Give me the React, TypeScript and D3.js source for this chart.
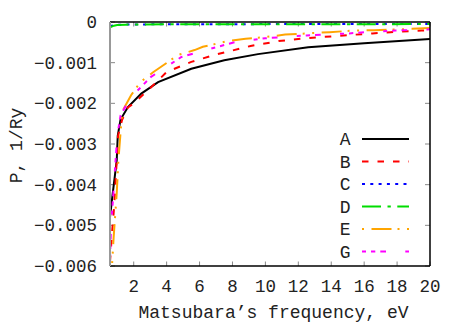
import React from "react";
import * as d3 from "d3";

const xTicks = [2, 4, 6, 8, 10, 12, 14, 16, 18, 20];
const yTicks = [0, -0.001, -0.002, -0.003, -0.004, -0.005, -0.006];

const seriesNames = ["A", "B", "C", "D", "E", "G"];

const xA = [0.56, 0.7, 0.85, 0.97, 1.03, 1.2, 1.65, 2.46, 3.48, 5.5, 7.5, 9.55, 12.6, 16, 20];
const yA = [-0.0048, -0.0043, -0.0038, -0.0034, -0.0028, -0.0024, -0.00209, -0.00176, -0.00148, -0.00115, -0.00094, -0.00079, -0.00062, -0.00052, -0.00042];

const xB = [0.56, 0.7, 0.8, 0.9, 0.97, 1.05, 1.3, 1.65, 2.0, 3.07, 4.0, 5.5, 7.0, 9.1, 10.8, 12.4, 14.5, 16.5, 17.6, 19.5, 20];
const yB = [-0.0059, -0.0051, -0.0046, -0.0039, -0.0034, -0.0028, -0.0024, -0.0021, -0.002, -0.0016, -0.00123, -0.00098, -0.0008, -0.00059, -0.00047, -0.0004, -0.00034, -0.00028, -0.00025, -0.00021, -0.0002];

const xC = [0.56, 1.0, 2.0, 5.0, 10, 15, 20];
const yC = [-0.0001, -0.00007, -0.00006, -0.000055, -0.000052, -0.00005, -0.000048];

const xD = [0.56, 0.8, 1.0, 1.5, 2.5, 5, 10, 15, 20];
const yD = [-0.00013, -0.00009, -0.000075, -0.000065, -0.00006, -0.000057, -0.000055, -0.000053, -0.000052];

const xE = [0.6, 0.68, 0.78, 0.97, 1.07, 1.3, 1.84, 2.4, 3.2, 4.7, 5.7, 6.2, 7.7, 8.8, 10, 11.2, 13.9, 15.4, 16.6, 18.2, 20];
const yE = [-0.0068, -0.006, -0.0053, -0.0042, -0.0034, -0.0022, -0.0018, -0.00148, -0.00123, -0.00081, -0.00069, -0.00061, -0.00047, -0.00041, -0.00037, -0.00031, -0.00025, -0.00021, -0.0002, -0.00018, -0.00015];

const xG = [0.56, 0.62, 0.7, 0.8, 0.9, 1.0, 1.2, 1.65, 2.2, 3.05, 3.5, 4.9, 7.1, 8.2, 10, 12.5, 15.1, 16.5, 17.9, 20];
const yG = [-0.0058, -0.0051, -0.0046, -0.004, -0.0034, -0.0028, -0.0023, -0.00197, -0.0017, -0.00135, -0.00123, -0.00086, -0.00061, -0.00049, -0.0004, -0.00033, -0.00028, -0.00024, -0.00021, -0.00018];

const xs = [xA, xB, xC, xD, xE, xG];
const ys = [yA, yB, yC, yD, yE, yG];

const colors = ["#000000", "#ff0000", "#0000ff", "#00dd00", "#ffa500", "#ff00ff"];
const dashes = ["", "6.5,9", "3,5.3", "19,6.5,3.3,6.5", "20,6,2,7.5,2,7.5", "4,5,4.3,5,5.7,19.3"];
const offsets = [0, 0, 0, 0, 35.5, 0];

const W = 463, H = 324;
const L = 110, T = 22, R = 430, B = 266;
const FONT = "'Liberation Mono', 'DejaVu Sans Mono', monospace";

export default function App() {
  const x = d3.scaleLinear().domain([0.56, 20]).range([L, R]);
  const y = d3.scaleLinear().domain([-0.006, 0]).range([B, T]);
  const line = d3.line<[number, number]>().x(d => x(d[0])).y(d => y(d[1]));
  const fmt = (v: number) => (v === 0 ? "0" : d3.format(".3f")(v));
  const legY = d3.scaleLinear().domain([0, 5]).range([139, 251.5]);

  return (
    <svg width={W} height={H} style={{ position: "absolute", left: 0, top: 0, background: "#fff" }} fontFamily={FONT}>
      <defs>
        <clipPath id="plot">
          <rect x={L} y={T} width={R - L} height={B - T} />
        </clipPath>
      </defs>
      {xTicks.map(t => (
        <g key={"xt" + t}>
          <line x1={x(t)} x2={x(t)} y1={B} y2={B - 4.5} stroke="#888" strokeWidth={1} />
          <line x1={x(t)} x2={x(t)} y1={T} y2={T + 4.5} stroke="#888" strokeWidth={1} />
          <text x={x(t)} y={292} textAnchor="middle" fontSize={17.5} fill="#222">{t}</text>
        </g>
      ))}
      {yTicks.map(t => (
        <g key={"yt" + t}>
          <line x1={L} x2={L + 5} y1={y(t)} y2={y(t)} stroke="#888" strokeWidth={1} />
          <line x1={R} x2={R - 5} y1={y(t)} y2={y(t)} stroke="#888" strokeWidth={1} />
          <text x={97} y={y(t) + 6} textAnchor="end" fontSize={17.5} fill="#222">{fmt(t)}</text>
        </g>
      ))}
      <g clipPath="url(#plot)">
        {xs.map((xv, i) => (
          <path key={seriesNames[i]}
            d={line(xv.map((v, j) => [v, ys[i][j]] as [number, number])) || ""}
            fill="none" stroke={colors[i]} strokeWidth={2}
            strokeDasharray={dashes[i] || undefined} strokeDashoffset={offsets[i]} />
        ))}
      </g>
      <line x1={L} x2={R} y1={T} y2={T} stroke="#000" strokeWidth={1.5} />
      <line x1={R} x2={R} y1={T} y2={B} stroke="#000" strokeWidth={1.5} />
      <line x1={L} x2={R} y1={B} y2={B} stroke="#000" strokeWidth={1.5} />
      <line x1={L} x2={L} y1={T} y2={B} stroke="#999" strokeWidth={2} />
      {seriesNames.map((n, i) => (
        <g key={"lg" + n}>
          <text x={350.5} y={legY(i) + 6} textAnchor="end" fontSize={18} fill="#222">{n}</text>
          <line x1={362} x2={409} y1={legY(i)} y2={legY(i)} stroke={colors[i]} strokeWidth={2}
            strokeDasharray={dashes[i] || undefined} strokeDashoffset={offsets[i]} />
        </g>
      ))}
      <text x={273.5} y={318} textAnchor="middle" fontSize={18} fill="#222">Matsubara’s frequency, eV</text>
      <text transform={`translate(22,145.5) rotate(-90)`} textAnchor="middle" fontSize={18} fill="#222">P, 1/Ry</text>
    </svg>
  );
}
